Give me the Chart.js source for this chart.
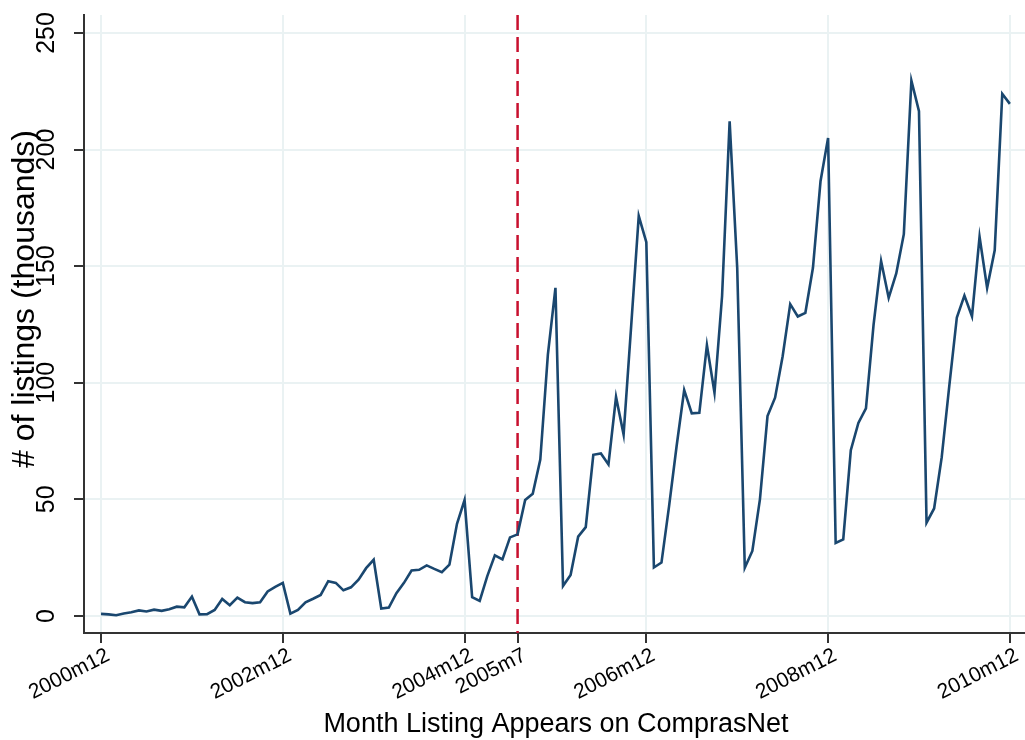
<!DOCTYPE html>
<html>
<head>
<meta charset="utf-8">
<title>Monthly listings on ComprasNet</title>
<script src="https://cdn.jsdelivr.net/npm/chart.js@4.4.1/dist/chart.umd.min.js"></script>
<style>
  html, body { margin: 0; padding: 0; background: #ffffff; }
  #wrap { width: 1025px; height: 740px; }
</style>
</head>
<body>
<div id="wrap"><canvas id="chart" width="1025" height="740"></canvas></div>
<script>
// Monthly series, 2000m12 through 2010m12 (121 months), in thousands of listings
const firstYear = 2000;
const firstMonth = 12;
const listings = [
  0.9, 0.7, 0.3, 1.1, 1.6, 2.4, 1.9, 2.7, 2.2, 2.9, 4.0, 3.7,
  8.3, 0.7, 0.8, 2.6, 7.3, 4.6, 7.9, 5.9, 5.5, 5.9, 10.5, 12.5,
  14.2, 1.0, 2.6, 5.9, 7.4, 9.0, 14.9, 14.2, 11.0, 12.3, 15.6, 20.5,
  24.1, 3.2, 3.6, 9.8, 14.2, 19.5, 19.8, 21.7, 20.2, 18.8, 22.0, 39.5,
  49.7, 8.1, 6.5, 17.1, 26.0, 24.3, 33.7, 35.0, 49.7, 52.4, 67.1, 112.1,
  140.7, 12.9, 17.6, 34.0, 38.1, 69.1, 69.7, 65.0, 93.9, 77.8, 124.4, 171.5,
  160.3, 20.8, 22.9, 47.0, 72.9, 96.9, 86.9, 87.1, 116.1, 95.7, 137.1, 212.1,
  149.3, 20.7, 27.9, 50.0, 85.7, 93.6, 111.4, 133.7, 128.4, 130.0, 149.3, 186.4,
  205.0, 31.3, 32.8, 71.1, 82.8, 89.0, 124.7, 152.2, 136.4, 146.9, 163.7, 229.6,
  216.5, 40.0, 46.1, 68.0, 98.6, 128.0, 137.4, 128.5, 162.6, 140.7, 156.8, 223.9,
  219.6
];

// Axis ticks (x in months since 2000m12)
const xTickValues = [0, 24, 48, 55, 72, 96, 120];
const xTickLabels = ['2000m12', '2002m12', '2004m12', '2005m7', '2006m12', '2008m12', '2010m12'];
const yTickValues = [0, 50, 100, 150, 200, 250];
const yTickLabels = ['0', '50', '100', '150', '200', '250'];

// Month of the policy change, marked with a dashed line
const eventMonth = 55;

const xTitle = 'Month Listing Appears on ComprasNet';
const yTitle = '# of listings (thousands)';

// Month labels like "2001m3" for each observation
const monthLabels = listings.map((_, i) => {
  const m0 = firstMonth - 1 + i;
  return (firstYear + Math.floor(m0 / 12)) + 'm' + (m0 % 12 + 1);
});

const points = listings.map((v, i) => ({ x: i, y: v, label: monthLabels[i] }));

const NAVY = '#1a476f';
const GRID = '#eaf2f3';
const AXIS = '#333333';
const EVENT = '#c8102e';
const FONT = '"Liberation Sans", Arial, Helvetica, sans-serif';

const eventLine = {
  id: 'eventLine',
  beforeDatasetsDraw(chart) {
    const { ctx, chartArea, scales } = chart;
    const x = scales.x.getPixelForValue(eventMonth);
    ctx.save();
    ctx.strokeStyle = EVENT;
    ctx.lineWidth = 2.5;
    ctx.setLineDash([15, 7]);
    ctx.beginPath();
    ctx.moveTo(x, chartArea.top);
    ctx.lineTo(x, chartArea.bottom);
    ctx.stroke();
    ctx.restore();
  }
};

const axisText = {
  id: 'axisText',
  afterDraw(chart) {
    const { ctx, chartArea, scales } = chart;
    ctx.save();
    ctx.fillStyle = '#000000';

    // y tick labels, turned to read upward
    ctx.font = '25px ' + FONT;
    ctx.textAlign = 'center';
    ctx.textBaseline = 'alphabetic';
    scales.y.ticks.forEach((t, k) => {
      const py = scales.y.getPixelForValue(t.value);
      ctx.save();
      ctx.translate(53.5, py);
      ctx.rotate(-Math.PI / 2);
      ctx.fillText(yTickLabels[k], 0, 0);
      ctx.restore();
    });

    // x tick labels, slanted upward to the right, ending at the tick
    ctx.font = '21px ' + FONT;
    ctx.textAlign = 'right';
    ctx.textBaseline = 'top';
    const slant = 27 * Math.PI / 180;
    scales.x.ticks.forEach((t, k) => {
      const px = scales.x.getPixelForValue(t.value);
      ctx.save();
      ctx.translate(px + 2.5, chartArea.bottom + 12);
      ctx.rotate(-slant);
      ctx.fillText(xTickLabels[k], 0, 0);
      ctx.restore();
    });

    // axis titles
    ctx.font = '27px ' + FONT;
    ctx.textAlign = 'center';
    ctx.textBaseline = 'alphabetic';
    ctx.fillText(xTitle, 556, 732);

    ctx.font = '32px ' + FONT;
    ctx.save();
    ctx.translate(34, 299);
    ctx.rotate(-Math.PI / 2);
    ctx.fillText(yTitle, 0, 0);
    ctx.restore();

    ctx.restore();
  }
};

new Chart(document.getElementById('chart'), {
  type: 'line',
  data: {
    datasets: [{
      label: 'Listings',
      data: points,
      borderColor: NAVY,
      borderWidth: 2.6,
      pointRadius: 0,
      tension: 0,
      fill: false
    }]
  },
  options: {
    responsive: false,
    devicePixelRatio: 1,
    animation: false,
    events: [],
    layout: { padding: { top: 15, right: 0, left: 0, bottom: 0 } },
    plugins: {
      legend: { display: false },
      tooltip: { enabled: false },
      title: { display: false }
    },
    scales: {
      x: {
        type: 'linear',
        position: 'bottom',
        min: -2.25,
        max: 122,
        afterBuildTicks: (scale) => { scale.ticks = xTickValues.map(v => ({ value: v })); },
        afterFit: (scale) => { scale.height = 107; },
        ticks: { display: false },
        grid: {
          color: (c) => (c.tick && c.tick.value === eventMonth ? 'rgba(0,0,0,0)' : GRID),
          lineWidth: 2,
          drawTicks: true,
          tickLength: 10,
          tickColor: AXIS,
          tickWidth: 2
        },
        border: { display: true, color: AXIS, width: 2 }
      },
      y: {
        type: 'linear',
        position: 'left',
        min: -7.3,
        max: 257.7,
        afterBuildTicks: (scale) => { scale.ticks = yTickValues.map(v => ({ value: v })); },
        afterFit: (scale) => { scale.width = 84; },
        ticks: { display: false },
        grid: {
          color: GRID,
          lineWidth: 2,
          drawTicks: true,
          tickLength: 10,
          tickColor: AXIS,
          tickWidth: 2
        },
        border: { display: true, color: AXIS, width: 2 }
      }
    }
  },
  plugins: [eventLine, axisText]
});
</script>
</body>
</html>
